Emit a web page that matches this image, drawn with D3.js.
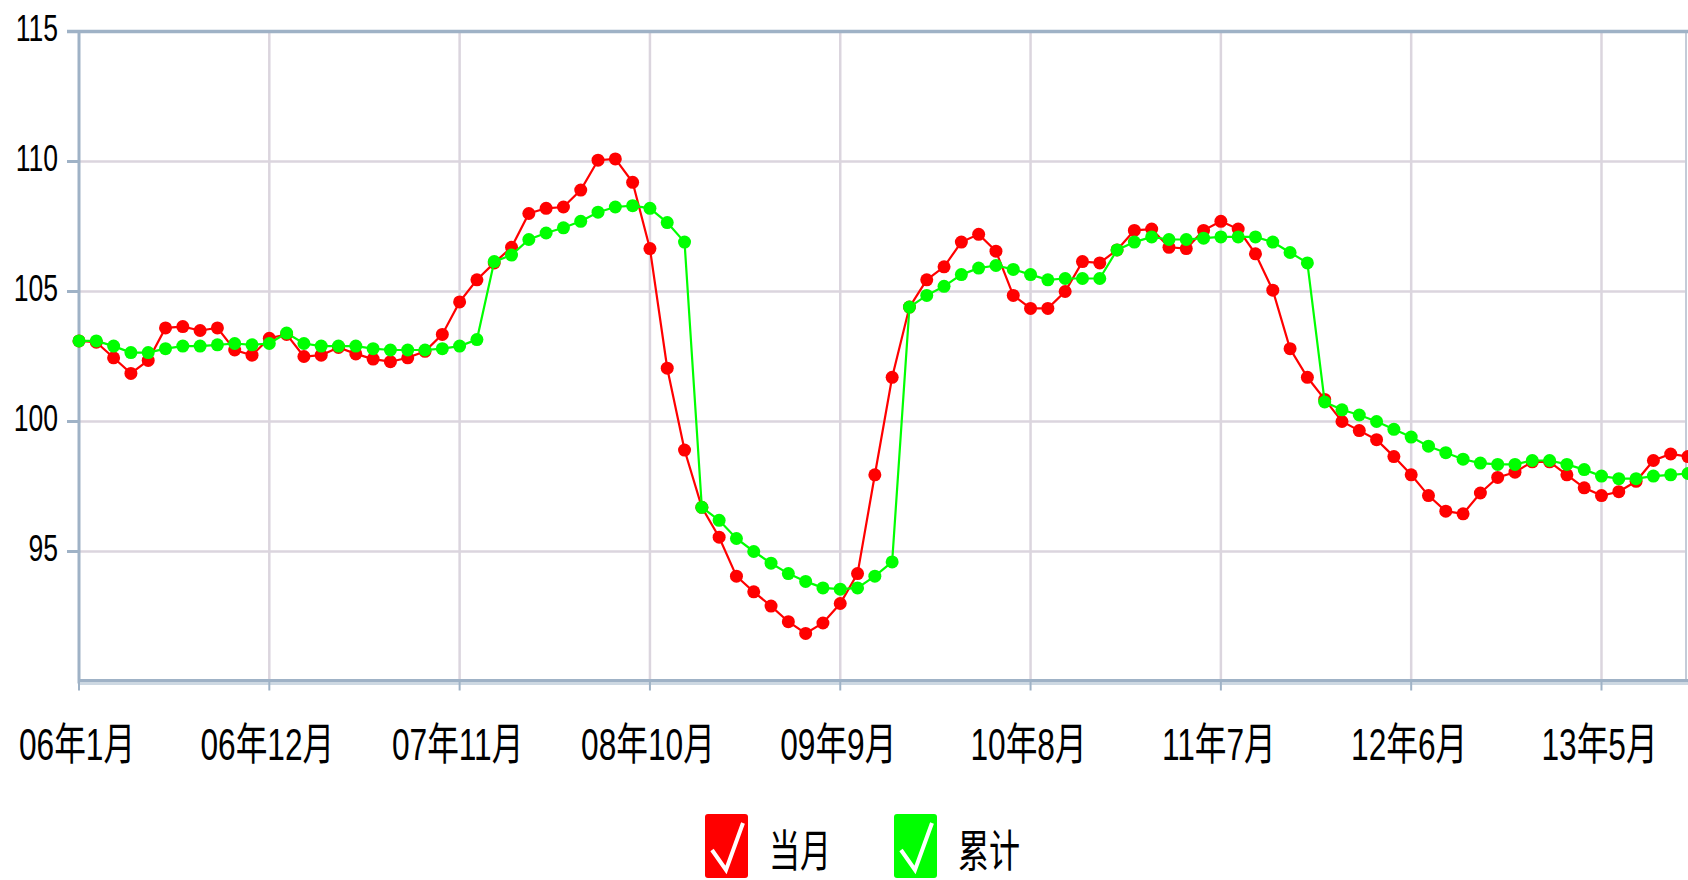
<!DOCTYPE html>
<html><head><meta charset="utf-8">
<script src="https://cdn.jsdelivr.net/npm/d3@7"></script>
<style>
html,body{margin:0;padding:0;background:#fff;}
svg{display:block;}
text{font-family:"Liberation Sans","Noto Sans CJK SC",sans-serif;fill:#000;}
</style></head>
<body>
<svg id="chart" width="1688" height="880"></svg>
<script>
// ---- data ----
const startYear = 2006, startMonth = 1, monthCount = 94;
const months = [];
for (let i = 0; i < monthCount; i++) {
  const m = (startMonth - 1 + i) % 12 + 1;
  const yr = startYear + Math.floor((startMonth - 1 + i) / 12);
  months.push(String(yr % 100).padStart(2, "0") + "年" + m + "月");
}
const tickLabels = ["06年1月","06年12月","07年11月","08年10月","09年9月","10年8月","11年7月","12年6月","13年5月"];
const yTicks = [95, 100, 105, 110, 115];
const seriesNames = ["当月", "累计"];
const currentMonth = [
  103.1,103.05,102.45,101.85,102.35,103.6,103.65,103.5,103.6,102.75,102.55,103.2,
  103.35,102.5,102.55,102.85,102.6,102.4,102.3,102.45,102.7,103.35,104.6,105.45,
  106.1,106.7,108.0,108.2,108.25,108.9,110.05,110.1,109.2,106.65,102.05,98.9,
  96.7,95.55,94.05,93.45,92.9,92.3,91.85,92.25,93.0,94.15,97.95,101.7,
  104.4,105.45,105.95,106.9,107.2,106.55,104.85,104.35,104.35,105.0,106.15,106.1,
  106.6,107.35,107.4,106.7,106.65,107.35,107.7,107.4,106.45,105.05,102.8,101.7,
  100.85,100.0,99.65,99.3,98.65,97.95,97.15,96.55,96.45,97.25,97.85,98.05,
  98.45,98.45,97.95,97.45,97.15,97.3,97.7,98.5,98.75,98.65
];
const cumulative = [
  103.1,103.1,102.9,102.65,102.65,102.8,102.9,102.9,102.95,103.0,102.95,103.0,
  103.4,103.0,102.9,102.9,102.9,102.8,102.75,102.75,102.75,102.8,102.9,103.15,
  106.15,106.4,107.0,107.25,107.45,107.7,108.05,108.25,108.3,108.2,107.65,106.9,
  96.7,96.2,95.5,95.0,94.55,94.15,93.85,93.6,93.55,93.6,94.05,94.6,
  104.4,104.85,105.2,105.65,105.9,106.0,105.85,105.65,105.45,105.5,105.5,105.5,
  106.6,106.9,107.1,107.0,107.0,107.05,107.1,107.1,107.1,106.9,106.5,106.1,
  100.75,100.45,100.25,100.0,99.7,99.4,99.05,98.8,98.55,98.4,98.35,98.35,
  98.5,98.5,98.35,98.15,97.9,97.8,97.8,97.9,97.95,98.0
];
const colors = ["#ff0000", "#00ff00"];

// ---- layout ----
const svg = d3.select("#chart");
const plotLeft = 79, plotRight = 1686, plotTop = 31.5, plotBottom = 681.5;
const x = d3.scalePoint().domain(months).range([plotLeft, 1688]);
const y = d3.scaleLinear().domain([90, 115]).range([plotBottom, plotTop]);
const axisColor = "#9fb2c6", gridColor = "#dbd5de";

// grid
const g = svg.append("g");
g.selectAll("line.hgrid").data(yTicks.filter(v => v < 115)).join("line")
  .attr("x1", plotLeft).attr("x2", plotRight)
  .attr("y1", d => y(d)).attr("y2", d => y(d))
  .attr("stroke", gridColor).attr("stroke-width", 2.5);
g.selectAll("line.vgrid").data(tickLabels.slice(1)).join("line")
  .attr("x1", d => x(d)).attr("x2", d => x(d))
  .attr("y1", plotTop).attr("y2", plotBottom)
  .attr("stroke", gridColor).attr("stroke-width", 2.5);
// right border
g.append("line").attr("x1", plotRight).attr("x2", plotRight).attr("y1", plotTop).attr("y2", plotBottom)
  .attr("stroke", "#c4ccd8").attr("stroke-width", 2);
// top border
g.append("line").attr("x1", 67).attr("x2", 1688).attr("y1", y(115)).attr("y2", y(115))
  .attr("stroke", axisColor).attr("stroke-width", 3.5);
// y ticks
g.selectAll("line.ytick").data(yTicks).join("line")
  .attr("x1", 67).attr("x2", plotLeft).attr("y1", d => y(d)).attr("y2", d => y(d))
  .attr("stroke", axisColor).attr("stroke-width", 3);
// left axis
g.append("line").attr("x1", plotLeft).attr("x2", plotLeft).attr("y1", plotTop).attr("y2", plotBottom + 2)
  .attr("stroke", axisColor).attr("stroke-width", 3);
// bottom axis
g.append("line").attr("x1", plotLeft).attr("x2", 1688).attr("y1", plotBottom - 1).attr("y2", plotBottom - 1)
  .attr("stroke", axisColor).attr("stroke-width", 3);
g.append("line").attr("x1", plotLeft).attr("x2", 1688).attr("y1", plotBottom + 2).attr("y2", plotBottom + 2)
  .attr("stroke", "#cdd8e2").attr("stroke-width", 3);
g.selectAll("line.xtick").data(tickLabels).join("line")
  .attr("x1", d => x(d)).attr("x2", d => x(d)).attr("y1", plotBottom).attr("y2", plotBottom + 9)
  .attr("stroke", axisColor).attr("stroke-width", 2);

// y labels
svg.selectAll("g.ylab").data(yTicks).join("g")
  .attr("transform", d => `translate(58,${y(d) + 9}) scale(0.83,1.17)`)
  .append("text").attr("text-anchor", "end").attr("font-size", 32)
  .attr("fill", "#111").text(d => d);

// x labels
svg.selectAll("g.xlab").data(tickLabels).join("g")
  .attr("transform", d => `translate(${x(d) - 2},760) scale(0.88,1.24)`)
  .append("text").attr("text-anchor", "middle").attr("font-size", 36)
  .attr("fill", "#000").text(d => d);

// series
const seriesData = [currentMonth, cumulative];
seriesData.forEach((vals, si) => {
  const pts = vals.map((v, i) => [months[i], v]);
  const line = d3.line().x(d => x(d[0])).y(d => y(d[1]));
  svg.append("path").datum(pts).attr("d", line)
    .attr("fill", "none").attr("stroke", colors[si]).attr("stroke-width", 2.2);
  svg.append("g").selectAll("circle").data(pts).join("circle")
    .attr("cx", d => x(d[0])).attr("cy", d => y(d[1])).attr("r", 6.5)
    .attr("fill", colors[si]);
});

// legend
const legendX = [705, 894];
seriesNames.forEach((name, i) => {
  const lg = svg.append("g").attr("transform", `translate(${legendX[i]},814)`);
  lg.append("rect").attr("width", 43).attr("height", 64).attr("rx", 3)
    .attr("fill", colors[i]);
  lg.append("polyline").attr("points", "7,36 21,56 38,9")
    .attr("fill", "none").attr("stroke", "#fff").attr("stroke-width", 4)
    .attr("stroke-linejoin", "miter");
  lg.append("g").attr("transform", "translate(64,53) scale(1,1.42)")
    .append("text").attr("font-size", 31)
    .style("font-family", "'Noto Sans CJK SC',sans-serif").text(name);
});
</script>
</body></html>
